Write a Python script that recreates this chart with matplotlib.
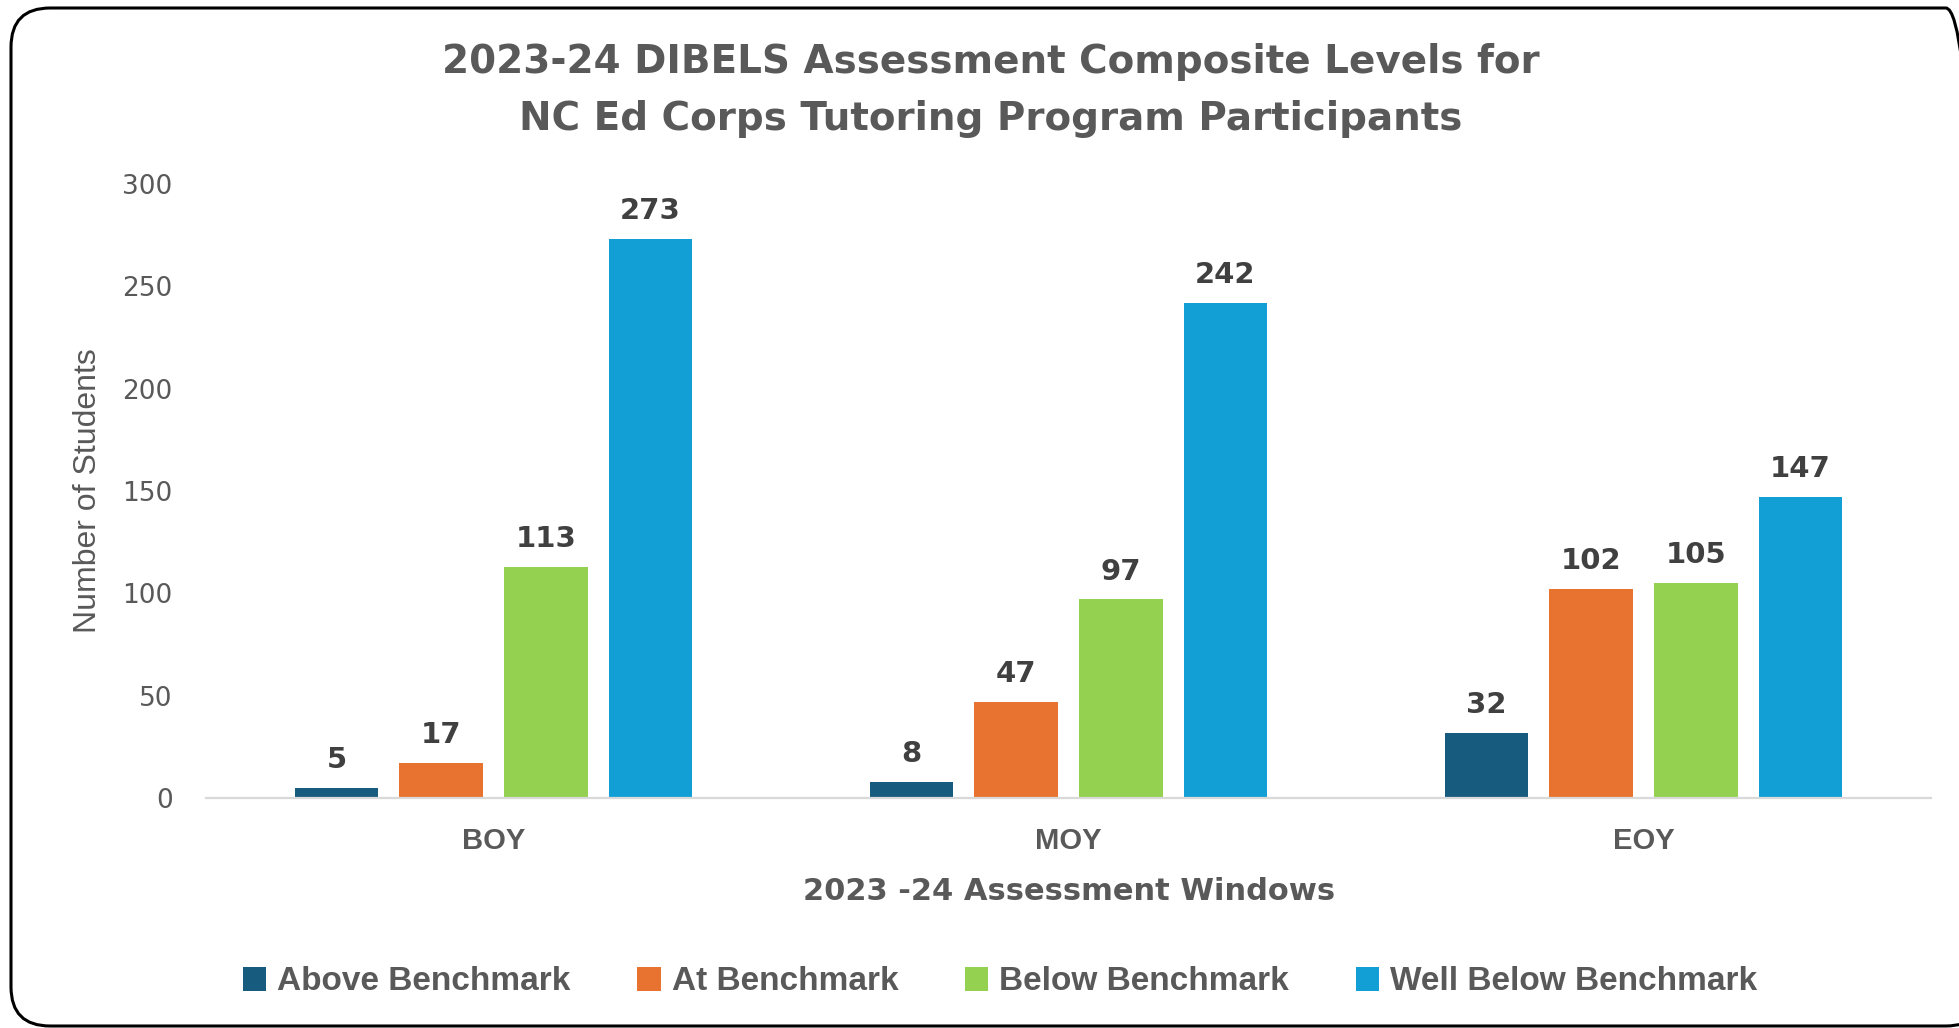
import numpy as np
import matplotlib
matplotlib.use('Agg')
import matplotlib.pyplot as plt
from matplotlib.patches import FancyBboxPatch, Patch

# ── Data ──────────────────────────────────────────────────────────────────────
windows = ['BOY', 'MOY', 'EOY']
levels = ['Above Benchmark', 'At Benchmark', 'Below Benchmark', 'Well Below Benchmark']
above_benchmark = [5, 8, 32]
at_benchmark = [17, 47, 102]
below_benchmark = [113, 97, 105]
well_below_benchmark = [273, 242, 147]
colors = ['#175c7e', '#e8722f', '#94d150', '#119fd6']

series = [above_benchmark, at_benchmark, below_benchmark, well_below_benchmark]

GRAY = '#595959'
W, H = 1959, 1028

fig = plt.figure(figsize=(W / 100, H / 100), dpi=100)
ax = fig.add_axes([206 / W, 230 / H, 1725 / W, 614 / H])

x = np.arange(len(windows))
step = 0.182
width = 0.145
for i, (vals, lab, col) in enumerate(zip(series, levels, colors)):
    pos = x + (i - 1.5) * step
    bars = ax.bar(pos, vals, width, color=col, label=lab, zorder=2)
    for b, v in zip(bars, vals):
        ax.annotate(str(v), (b.get_x() + b.get_width() / 2, v),
                    xytext=(0, 10), textcoords='offset points',
                    ha='center', va='bottom', fontsize=21, fontweight='bold',
                    color='#404040', family='DejaVu Sans')

ax.set_xlim(-0.5, 2.5)
ax.set_ylim(0, 300)
ax.set_yticks([0, 50, 100, 150, 200, 250, 300])
ax.set_xticks(x)
ax.set_xticklabels(windows, fontsize=21, fontweight='bold', color=GRAY,
                   family='Liberation Sans')
for t in ax.get_yticklabels():
    t.set_fontsize(19)
    t.set_color(GRAY)
    t.set_family('DejaVu Sans')
ax.tick_params(axis='both', length=0)
ax.tick_params(axis='y', pad=24)
ax.tick_params(axis='x', pad=21)

for s in ['top', 'right', 'left']:
    ax.spines[s].set_visible(False)
ax.spines['bottom'].set_color('#d9d9d9')
ax.spines['bottom'].set_linewidth(1.6)

ax.set_ylabel('Number of Students', fontsize=23, color=GRAY, family='Liberation Sans')
ax.yaxis.set_label_coords((103 - 206) / 1725, 0.5)

fig.text(1069 / W, 1 - 892 / H, '2023 -24 Assessment Windows', ha='center', va='center',
         fontsize=22, fontweight='bold', color=GRAY, family='DejaVu Sans')

fig.text(991 / W, 1 - 62 / H, '2023-24 DIBELS Assessment Composite Levels for',
         ha='center', va='center', fontsize=28, fontweight='bold', color=GRAY,
         family='DejaVu Sans')
fig.text(991 / W, 1 - 119 / H, 'NC Ed Corps Tutoring Program Participants',
         ha='center', va='center', fontsize=28, fontweight='bold', color=GRAY,
         family='DejaVu Sans')

handles = [Patch(facecolor=c, label=l) for c, l in zip(colors, levels)]
leg = fig.legend(handles=handles, loc='center', bbox_to_anchor=(1000 / W, 1 - 982 / H),
                 ncol=4, frameon=False, handlelength=0.7, handleheight=0.7,
                 handletextpad=0.33, columnspacing=2.0,
                 prop={'family': 'Liberation Sans', 'weight': 'bold', 'size': 24})
for t in leg.get_texts():
    t.set_color(GRAY)

# rounded chart border, running off the right edge like the original
border = FancyBboxPatch((11 / W, 2 / H), (1985 - 11) / W, (1020 - 2) / H,
                        boxstyle='round,pad=0,rounding_size=0.02',
                        transform=fig.transFigure, fill=False,
                        edgecolor='black', linewidth=2.2, mutation_aspect=W / H)
fig.patches.append(border)

fig.savefig('out.png', dpi=100)
